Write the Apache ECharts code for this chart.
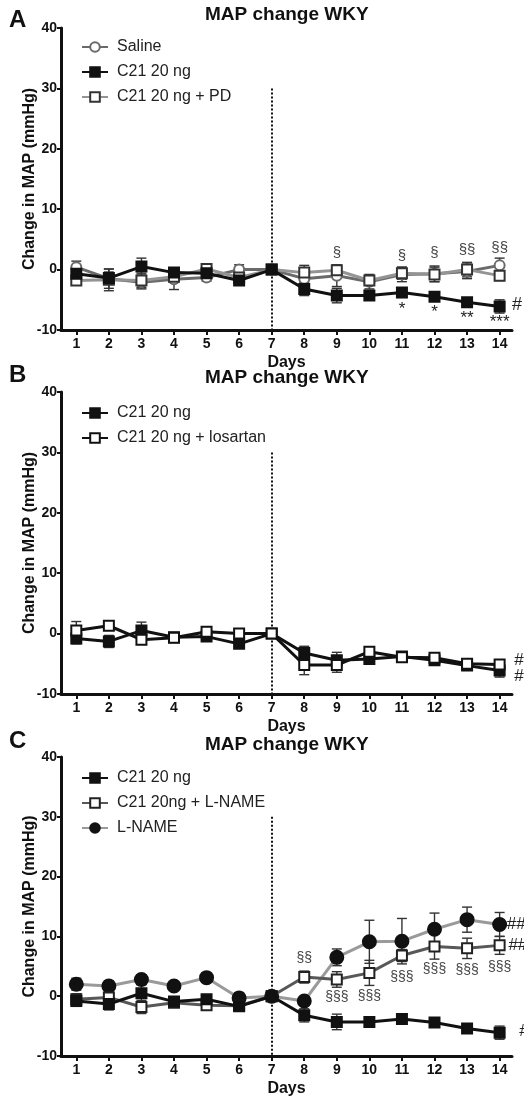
<!DOCTYPE html>
<html>
<head>
<meta charset="utf-8">
<script src="https://cdn.jsdelivr.net/npm/echarts@6/dist/echarts.min.js"></script>
<style>
  html, body { margin: 0; padding: 0; background: #fff; }
  #chart { width: 524px; height: 1098px; }
</style>
</head>
<body>
<div id="chart"></div>
<script>
// ---------- data ----------
const days = [1, 2, 3, 4, 5, 6, 7, 8, 9, 10, 11, 12, 13, 14];
const yTicks = [-10, 0, 10, 20, 30, 40];
const titleText = 'MAP change WKY';
const yAxisTitle = 'Change in MAP (mmHg)';
const xAxisTitle = 'Days';
const panelLetters = ['A', 'B', 'C'];

// Panel A
const salineA    = [0.4, -1.5, -2.1, -1.6, -1.3, 0.0, 0.0, -1.5, -1.0, -2.0, -0.8, -0.7, -0.3, 0.7];
const salineAErr = [1.0, 1.6, 1.1, 1.7, 0.6, 0.8, 0.3, 1.0, 1.8, 1.2, 1.2, 1.3, 1.2, 1.2];
const c21A       = [-0.7, -1.4, 0.5, -0.5, -0.6, -1.8, 0.0, -3.2, -4.3, -4.3, -3.8, -4.5, -5.4, -6.1];
const c21AErr    = [0.9, 1.0, 1.4, 0.5, 0.5, 0.6, 0.3, 1.1, 1.2, 0.6, 0.8, 0.6, 0.3, 1.1];
const pdA        = [-1.8, -1.7, -1.8, -1.2, 0.1, -1.3, 0.0, -0.5, -0.1, -1.8, -0.6, -0.8, 0.0, -1.0];
const pdAErr     = [0.6, 1.8, 1.2, 0.8, 0.5, 0.8, 0.3, 1.2, 0.5, 0.8, 1.0, 1.2, 1.2, 0.8];
const sectA = [[9, 2.8, '§'], [11, 2.2, '§'], [12, 2.8, '§'], [13, 3.3, '§§'], [14, 3.6, '§§']];
const starA = [[11, -6.6, '*'], [12, -7.1, '*'], [13, -8.0, '**'], [14, -8.8, '***']];
const hashA = [[14.38, -5.9, '#']];

// Panel B
const c21B       = [-0.8, -1.3, 0.5, -0.6, -0.5, -1.7, 0.0, -3.2, -4.4, -4.2, -3.8, -4.4, -5.3, -6.1];
const c21BErr    = [0.9, 1.0, 1.4, 0.5, 0.5, 0.6, 0.3, 1.1, 1.3, 0.7, 0.7, 0.6, 0.3, 1.1];
const losB       = [0.5, 1.3, -1.0, -0.7, 0.3, 0.0, 0.0, -5.2, -5.2, -3.0, -3.9, -4.0, -5.0, -5.1];
const losBErr    = [1.5, 0.6, 0.6, 0.6, 0.4, 0.5, 0.3, 1.6, 1.2, 0.8, 0.7, 0.7, 0.5, 0.6];
const hashB = [[14.45, -4.4, '#'], [14.45, -7.0, '#']];

// Panel C
const c21C       = [-0.8, -1.3, 0.5, -0.9, -0.5, -1.7, 0.0, -3.2, -4.3, -4.3, -3.8, -4.4, -5.4, -6.1];
const c21CErr    = [0.9, 1.0, 1.4, 0.5, 0.5, 0.6, 0.3, 1.1, 1.3, 0.6, 0.8, 0.6, 0.3, 1.1];
const c21lnC     = [-0.5, -0.2, -1.8, -1.1, -1.5, -1.6, 0.0, 3.2, 2.8, 3.9, 6.8, 8.3, 8.0, 8.5];
const c21lnCErr  = [0.9, 1.2, 1.1, 0.6, 0.6, 0.6, 0.3, 1.0, 1.3, 2.1, 1.0, 2.1, 1.7, 1.5];
const lnameC     = [2.0, 1.7, 2.8, 1.7, 3.1, -0.3, 0.0, -0.8, 6.5, 9.1, 9.2, 11.2, 12.8, 12.0];
const lnameCErr  = [1.0, 0.9, 0.8, 0.5, 0.8, 0.9, 0.3, 0.5, 1.4, 3.6, 3.8, 2.7, 2.1, 2.0];
const sectC = [
  [8, 6.3, '§§'], [9, -0.2, '§§§'], [10, 0.0, '§§§'], [11, 3.2, '§§§'],
  [12, 4.5, '§§§'], [13, 4.4, '§§§'], [14, 4.9, '§§§']
];
const hashC = [[14.22, 12.1, '###'], [14.27, 8.5, '##'], [14.6, -5.9, '#']];

// ---------- layout ----------
const FONT = '"Liberation Sans", Arial, Helvetica, sans-serif';
const grids = [
  { left: 61, top: 28, width: 451, height: 302 },
  { left: 61, top: 392, width: 451, height: 302 },
  { left: 61, top: 757, width: 451, height: 300 }
];
const X_MIN = 0.53, X_MAX = 14.38;

function pairs(vals) { return days.map((d, i) => [d, vals[i]]); }
function errPairs(vals, errs) { return days.map((d, i) => [d, vals[i], errs[i]]); }

function errSeries(g, vals, errs, color) {
  return {
    type: 'custom', xAxisIndex: g, yAxisIndex: g, z: 2, silent: true,
    data: errPairs(vals, errs),
    encode: { x: 0, y: 1 },
    renderItem: function (params, api) {
      const x = api.value(0), y = api.value(1), e = api.value(2);
      const hi = api.coord([x, y + e]);
      const lo = api.coord([x, y - e]);
      const w = 5;
      const st = { stroke: color, lineWidth: 1.4 };
      return { type: 'group', children: [
        { type: 'line', shape: { x1: hi[0], y1: hi[1], x2: lo[0], y2: lo[1] }, style: st },
        { type: 'line', shape: { x1: hi[0] - w, y1: hi[1], x2: hi[0] + w, y2: hi[1] }, style: st },
        { type: 'line', shape: { x1: lo[0] - w, y1: lo[1], x2: lo[0] + w, y2: lo[1] }, style: st }
      ]};
    }
  };
}

function lineSeries(g, name, vals, lineColor, symbol, symColor, size, z) {
  return {
    type: 'line', name: name, xAxisIndex: g, yAxisIndex: g, z: z || 3,
    data: pairs(vals), symbol: symbol, symbolSize: size, showSymbol: true,
    lineStyle: { color: lineColor, width: 3 },
    itemStyle: { color: symColor, borderColor: symColor, borderWidth: 2 },
    emphasis: { disabled: true }, animation: false
  };
}

function refLines(g) {
  return {
    type: 'line', xAxisIndex: g, yAxisIndex: g, data: [], z: 1, silent: true,
    markLine: {
      silent: true, symbol: ['none', 'none'], animation: false,
      label: { show: false },
      lineStyle: { type: [2, 2], color: '#111', width: 2 },
      data: [
        [{ coord: [7, 30] }, { coord: [7, -10] }],
        [{ coord: [X_MIN, 0] }, { coord: [X_MAX + 0.1, 0] }]
      ]
    }
  };
}

function noteSeries(g, notes, fontSize, color, align) {
  return {
    type: 'scatter', xAxisIndex: g, yAxisIndex: g, z: 6, silent: true, clip: false,
    symbolSize: 0, itemStyle: { color: 'rgba(0,0,0,0)' },
    data: notes.map(n => ({ value: [n[0], n[1]], name: n[2] })),
    label: {
      show: true, position: 'inside', formatter: '{b}', opacity: 1,
      fontFamily: FONT, fontSize: fontSize, color: color, align: align || 'center'
    },
    labelLayout: { hideOverlap: false },
    animation: false
  };
}

const xAxes = grids.map((g, i) => ({
  type: 'value', gridIndex: i, min: X_MIN, max: X_MAX,
  name: xAxisTitle, nameLocation: 'middle', nameGap: 25,
  nameTextStyle: { fontFamily: FONT, fontWeight: 'bold', fontSize: 16, color: '#111' },
  axisLine: { show: true, onZero: false, lineStyle: { color: '#111', width: 3 } },
  axisTick: { show: true, customValues: days, length: 5, lineStyle: { color: '#111', width: 2 } },
  axisLabel: { customValues: days, margin: 7, fontFamily: FONT, fontWeight: 'bold', fontSize: 14, color: '#111' },
  splitLine: { show: false }
}));

const yAxes = grids.map((g, i) => ({
  type: 'value', gridIndex: i, min: -10, max: 40, interval: 10,
  name: yAxisTitle, nameLocation: 'middle', nameGap: 23, nameMoveOverlap: false,
  nameTextStyle: { fontFamily: FONT, fontWeight: 'bold', fontSize: 16, color: '#111' },
  axisLine: { show: true, onZero: false, lineStyle: { color: '#111', width: 3 } },
  axisTick: { show: true, length: 4, lineStyle: { color: '#111', width: 2 } },
  axisLabel: { margin: 4, fontFamily: FONT, fontWeight: 'bold', fontSize: 14, color: '#111' },
  splitLine: { show: false }
}));

const S_GRAY = '#6a6a6a', PD_GRAY = '#949494', ERR = '#333';

const series = [
  // Panel A
  refLines(0),
  errSeries(0, salineA, salineAErr, ERR),
  errSeries(0, c21A, c21AErr, ERR),
  errSeries(0, pdA, pdAErr, ERR),
  lineSeries(0, 'Saline', salineA, S_GRAY, 'emptyCircle', S_GRAY, 10, 3),
  lineSeries(0, 'C21 20 ng + PD', pdA, PD_GRAY, 'emptyRect', '#333', 10, 4),
  lineSeries(0, 'C21 20 ng', c21A, '#111', 'rect', '#111', 10, 5),
  noteSeries(0, sectA, 15, '#444'),
  noteSeries(0, starA, 17, '#222'),
  noteSeries(0, hashA, 18, '#222', 'left'),
  // Panel B
  refLines(1),
  errSeries(1, c21B, c21BErr, ERR),
  errSeries(1, losB, losBErr, ERR),
  lineSeries(1, 'C21 20 ng', c21B, '#111', 'rect', '#111', 10, 4),
  lineSeries(1, 'C21 20 ng + losartan', losB, '#111', 'emptyRect', '#111', 10, 5),
  noteSeries(1, hashB, 17, '#222', 'left'),
  // Panel C
  refLines(2),
  errSeries(2, c21C, c21CErr, ERR),
  errSeries(2, c21lnC, c21lnCErr, ERR),
  errSeries(2, lnameC, lnameCErr, ERR),
  lineSeries(2, 'C21 20ng + L-NAME', c21lnC, '#585858', 'emptyRect', '#222', 10, 4),
  lineSeries(2, 'L-NAME', lnameC, '#9a9a9a', 'circle', '#111', 13, 3),
  lineSeries(2, 'C21 20 ng', c21C, '#111', 'rect', '#111', 10, 5),
  noteSeries(2, sectC, 14, '#444'),
  noteSeries(2, hashC, 17, '#222', 'left')
];

function legend(top, names) {
  return {
    orient: 'vertical', left: 76, top: top, itemGap: 9,
    itemWidth: 26, itemHeight: 12, selectedMode: false,
    data: names,
    textStyle: { fontFamily: FONT, fontSize: 16, color: '#222', padding: [0, 0, 0, 4] }
  };
}

const titleGraphics = [];
const titleY = [15, 378, 745];
const letterY = [21, 376, 742];
for (let i = 0; i < 3; i++) {
  titleGraphics.push({
    type: 'text', left: 205, top: titleY[i] - 10,
    style: { text: titleText, fontFamily: FONT, fontWeight: 'bold', fontSize: 19, fill: '#111' }
  });
  titleGraphics.push({
    type: 'text', left: 9, top: letterY[i] - 13,
    style: { text: panelLetters[i], fontFamily: FONT, fontWeight: 'bold', fontSize: 24, fill: '#111' }
  });
}

const option = {
  animation: false,
  backgroundColor: '#fff',
  grid: grids,
  xAxis: xAxes,
  yAxis: yAxes,
  legend: [
    legend(34, ['Saline', 'C21 20 ng', 'C21 20 ng + PD']),
    legend(400, ['C21 20 ng', 'C21 20 ng + losartan']),
    legend(765, ['C21 20 ng', 'C21 20ng + L-NAME', 'L-NAME'])
  ],
  graphic: titleGraphics,
  series: series
};

const chart = echarts.init(document.getElementById('chart'), null, { renderer: 'canvas' });
chart.setOption(option);
</script>
</body>
</html>
